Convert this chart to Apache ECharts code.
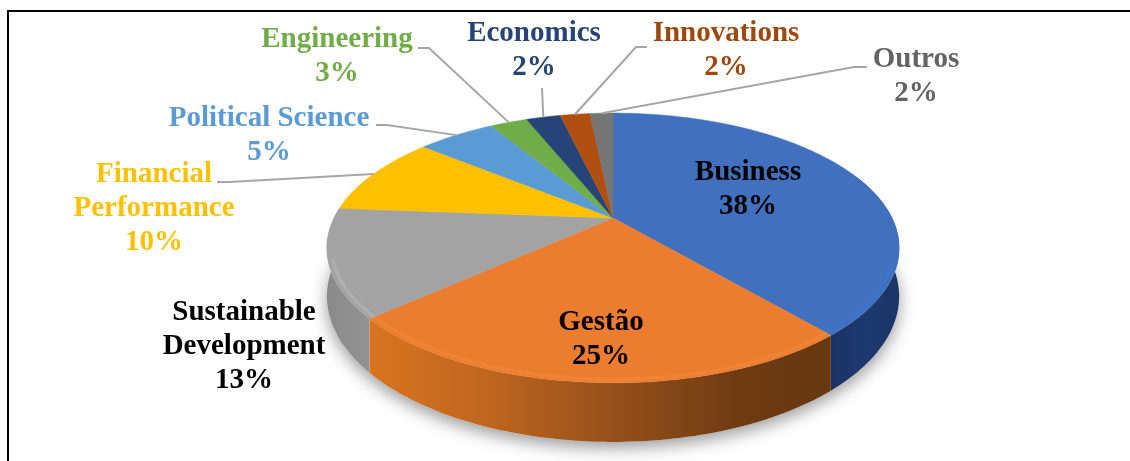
<!DOCTYPE html>
<html><head><meta charset="utf-8">
<script src="https://cdn.jsdelivr.net/npm/echarts@6/dist/echarts.min.js"></script>
<style>html,body{margin:0;padding:0;background:#fff}#c{width:1130px;height:461px;filter:blur(0.55px)}</style>
</head><body><div id="c"></div>
<script>
// --- data ---
const categories = ['Business','Gestão','Sustainable\nDevelopment','Financial\nPerformance','Political Science','Engineering','Economics','Innovations','Outros'];
const shareValues = [38.8,24.6,12.9,9.7,5.4,2.6,2.4,2.1,1.6];
const shareLabels = ['38%','25%','13%','10%','5%','3%','2%','2%','2%'];
// --- styling / layout per category ---
const topColors = ['#4170bf','#ec7c30','#a3a3a3','#ffc000','#5b9bd5','#70ad47','#264478','#b04f10','#757575'];
const labelColors = ['#000','#000','#000','#ffc000','#5b9bd5','#70ad47','#264478','#9e480e','#636363'];
const labelCenters = [[748,190],[601,340],[244,347],[154,209],[269,136],[337,57],[534,51],[726,51],[916,77]];
const leaderStarts = [null,null,null,[217,182],[376,125],[418,48],[542,88],[647,47],[867,67]];
const leaderElbows = [null,null,null,[229,182],[387,125],[429,48],null,[636,47],[854,67]];
const sideFills = [
  [[0,'#1b3263'],[0.5,'#1c3a70'],[1,'#1a3566']],
  [[0,'#d8741f'],[0.25,'#c0661f'],[0.5,'#9a521b'],[0.8,'#6e3b12'],[1,'#683810']],
  [[0,'#8a8a8a'],[1,'#929292']],
  [[0,'#c89a00'],[1,'#c89a00']]
];
const rimColors = ['#3a78d8','#f5923f','#c0c0c0','#ffc000'];
// --- disc geometry (perspective view of a circle) ---
const CX = 613, CY = 218, RX = 279, RY = 128.2, K = 0.222, DEPTH = 46;
const total = shareValues.reduce((a,b)=>a+b,0);
const cum = []; shareValues.reduce((s,v,i)=>(cum[i]=s, s+v),0);
const toAngle = p => p/total*2*Math.PI;
function proj(a, drop, scale){
  const f = scale || 1, sx = f*Math.sin(a), front = -f*Math.cos(a), w = 1 - K*front;
  return [CX + RX*sx/w, CY + (RY*front + (drop||0))/w];
}
function arc(a0,a1,drop,scale){
  const n = Math.max(2, Math.ceil(Math.abs(a1-a0)/0.02)), pts=[];
  for(let i=0;i<=n;i++) pts.push(proj(a0+(a1-a0)*i/n,drop,scale));
  return pts;
}
const deg = Math.PI/180, LO = 70*deg, HI = 290*deg, RIM_LO = 110*deg, RIM_HI = 252*deg;

function renderItem(params){
  const i = params.dataIndex, children = [];
  const a0 = toAngle(cum[i]), a1 = toAngle(cum[i]+shareValues[i]);
  if(i===0){
    children.push({type:'polygon',z2:0,shape:{points:arc(0,2*Math.PI,DEPTH)},
      style:{fill:'#ffffff',shadowBlur:16,shadowColor:'rgba(60,60,60,0.5)',shadowOffsetY:6}});
  }
  const s0 = Math.max(a0,LO), s1 = Math.min(a1,HI);
  if(s1>s0 && sideFills[i]){
    const pts = arc(s0,s1,0).concat(arc(s1,s0,DEPTH));
    children.push({type:'polygon',z2:1,shape:{points:pts},
      style:{fill:new echarts.graphic.LinearGradient(0,0,1,0,sideFills[i].map(s=>({offset:s[0],color:s[1]})))}});
    const r0 = Math.max(a0,RIM_LO), r1 = Math.min(a1,RIM_HI);
    if(r1>r0){
      children.push({type:'polyline',z2:3,shape:{points:arc(r0,r1,0,0.984)},
        style:{fill:'none',stroke:rimColors[i],lineWidth:3.5,opacity:0.4}});
    }
  }
  children.push({type:'polygon',z2:2,shape:{points:[[CX,CY]].concat(arc(a0,a1,0))},
    style:{fill:topColors[i],stroke:topColors[i],lineWidth:0.5}});
  if(leaderStarts[i]){
    const pts = [leaderStarts[i]];
    if(leaderElbows[i]) pts.push(leaderElbows[i]);
    pts.push(proj((a0+a1)/2,0));
    children.push({type:'polyline',z2:4,shape:{points:pts},style:{fill:'none',stroke:'#a6a6a6',lineWidth:2}});
  }
  children.push({type:'text',z2:5,style:{
    text:categories[i]+'\n'+shareLabels[i],x:labelCenters[i][0],y:labelCenters[i][1],
    fill:labelColors[i],align:'center',verticalAlign:'middle',lineHeight:34,
    font:'bold 29px "Liberation Serif", serif'}});
  return {type:'group',children};
}

const chart = echarts.init(document.getElementById('c'),null,{renderer:'canvas'});
chart.setOption({
  animation:false,
  backgroundColor:'#ffffff',
  graphic:[{type:'polyline',silent:true,shape:{points:[[8,461],[8,11],[1130,11]]},style:{fill:'none',stroke:'#000',lineWidth:2}}],
  series:[{type:'custom',coordinateSystem:'none',renderItem,silent:true,
    data:categories.map((c,i)=>({name:c,value:shareValues[i]}))}]
});
</script></body></html>
